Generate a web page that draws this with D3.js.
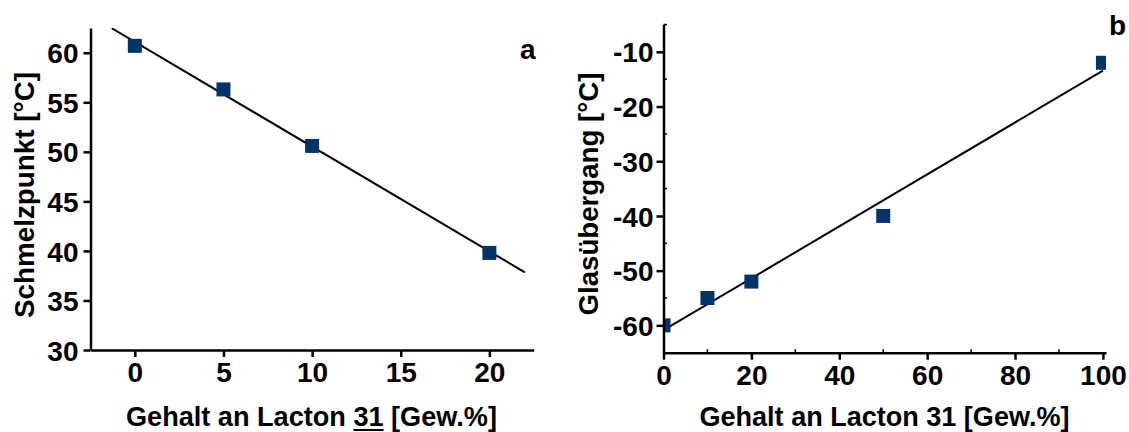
<!DOCTYPE html>
<html><head><meta charset="utf-8">
<script src="https://cdn.jsdelivr.net/npm/d3@7"></script>
<style>
body{margin:0;background:#fff;}
svg{display:block;}
text{font-family:"Liberation Sans",Arial,Helvetica,sans-serif;font-weight:bold;fill:#000;}
</style></head>
<body>
<svg id="c" width="1129" height="432"></svg>
<script>
// Panel a data
const aContent = [0, 5, 10, 20];
const aMelt = [60.7, 56.3, 50.6, 39.8];
const aXTicks = [0, 5, 10, 15, 20];
const aYTicks = [30, 35, 40, 45, 50, 55, 60];
const aFitRange = [-1.3, 22];
// Panel b data
const bContent = [0, 10, 20, 50, 100];
const bGlass = [-60, -55, -52, -40, -12];
const bXTicks = [0, 20, 40, 60, 80, 100];
const bXMinor = [10, 30, 50, 70, 90];
const bYTicks = [-60, -50, -40, -30, -20, -10];
const bYMinor = [-65, -55, -45, -35, -25, -15, -5];
const bFitRange = [0, 100];

const svg = d3.select("#c");
const markerColor = "#003366";
const fmt = d => String(d); // plain hyphen-minus as in the reference

function fit(xs, ys){
  const n = xs.length, mx = d3.mean(xs), my = d3.mean(ys);
  let sxy = 0, sxx = 0;
  for(let i=0;i<n;i++){ sxy += (xs[i]-mx)*(ys[i]-my); sxx += (xs[i]-mx)**2; }
  const m = sxy/sxx; return {m, b: my - m*mx};
}

function panel(o){
  const g = svg.append("g");
  const x = d3.scaleLinear().domain(o.xd).range(o.xr);
  const y = d3.scaleLinear().domain(o.yd).range(o.yr);
  const id = "clip"+o.name;
  svg.append("clipPath").attr("id", id).append("rect")
    .attr("x", o.xr[0]).attr("y", o.yr[1]).attr("width", o.xr[1]-o.xr[0]).attr("height", o.yr[0]-o.yr[1]);
  // fit line
  const f = fit(o.xs, o.ys);
  g.append("line").attr("clip-path", `url(#${id})`)
    .attr("x1", x(o.fr[0])).attr("y1", y(f.b + f.m*o.fr[0]))
    .attr("x2", x(o.fr[1])).attr("y2", y(f.b + f.m*o.fr[1]))
    .attr("stroke", "#000").attr("stroke-width", 2);
  // markers
  const s = 14;
  g.append("g").attr("clip-path", `url(#${id})`).selectAll("rect").data(o.xs.map((d,i)=>[d,o.ys[i]])).join("rect")
    .attr("x", d=>x(d[0])-s/2).attr("y", d=>y(d[1])-s/2).attr("width", s).attr("height", s)
    .attr("fill", markerColor);
  // axes
  const xa = d3.axisBottom(x).tickValues(o.xt).tickSize(7).tickSizeOuter(0).tickFormat(fmt);
  const ya = d3.axisLeft(y).tickValues(o.yt).tickSize(7).tickSizeOuter(0).tickFormat(fmt);
  const gx = g.append("g").attr("transform", `translate(0,${o.yr[0]})`).call(xa);
  const gy = g.append("g").attr("transform", `translate(${o.xr[0]},0)`).call(ya);
  [gx, gy].forEach(ax=>{
    ax.select(".domain").attr("stroke", "#000").attr("stroke-width", 2.5);
    ax.selectAll(".tick line").attr("stroke", "#000").attr("stroke-width", 2.5);
    ax.selectAll(".tick text").style("font-size", "28px").style("font-family", "'Liberation Sans',Arial,sans-serif").style("font-weight", "bold").attr("fill", "#000");
  });
  gx.selectAll(".tick text").attr("y", 12).attr("dy", "0.71em");
  gy.selectAll(".tick text").attr("x", o.ylabPad).attr("dy", "0.36em");
  if(o.xm){
    g.append("g").selectAll("line").data(o.xm).join("line")
      .attr("x1", d=>x(d)).attr("x2", d=>x(d)).attr("y1", o.yr[0]).attr("y2", o.yr[0]-3.5)
      .attr("stroke", "#000").attr("stroke-width", 1.5);
  }
  if(o.ym){
    g.append("g").selectAll("line").data(o.ym).join("line")
      .attr("y1", d=>y(d)).attr("y2", d=>y(d)).attr("x1", o.xr[0]).attr("x2", o.xr[0]+3.5)
      .attr("stroke", "#000").attr("stroke-width", 1.5);
  }
  // titles
  const xt = g.append("text").attr("x", o.xtx).attr("y", 426)
    .attr("text-anchor", "middle").style("font-size", "28px")
    .attr("textLength", o.xtLen).attr("lengthAdjust", "spacingAndGlyphs")
    .text(o.xTitle);
  if(o.underline){
    // underline the compound number, like the reference
    const node = xt.node();
    const i0 = o.xTitle.indexOf(o.underline), i1 = i0 + o.underline.length - 1;
    const a = node.getExtentOfChar(i0), b = node.getExtentOfChar(i1);
    g.append("line").attr("x1", a.x).attr("x2", b.x + b.width).attr("y1", 430).attr("y2", 430)
      .attr("stroke", "#000").attr("stroke-width", 2);
  }
  g.append("text").attr("transform", `translate(${o.ylx},${o.yly}) rotate(-90)`)
    .attr("text-anchor", "middle").style("font-size", "27px")
    .attr("textLength", o.ytLen).attr("lengthAdjust", "spacingAndGlyphs").text(o.yTitle);
  g.append("text").attr("x", o.lx).attr("y", o.ly).style("font-size", "28px").text(o.letter);
}

panel({name:"a", xs:aContent, ys:aMelt, xd:[-2.5,22.5], xr:[90.5,533.7], yd:[30,62.5], yr:[350,28],
  xt:aXTicks, yt:aYTicks, fr:aFitRange, ylabPad:-12, xtx:311.5, xtLen:371,
  xTitle:"Gehalt an Lacton 31 [Gew.%]", underline:"31",
  yTitle:"Schmelzpunkt [°C]", ytLen:246, ylx:34, yly:195, letter:"a", lx:520, ly:59});

panel({name:"b", xs:bContent, ys:bGlass, xd:[0,100.7], xr:[663.5,1106], yd:[-65,-5], yr:[352.7,24.5],
  xt:bXTicks, yt:bYTicks, xm:bXMinor, ym:bYMinor, fr:bFitRange, ylabPad:-10, xtx:884.5, xtLen:370,
  xTitle:"Gehalt an Lacton 31 [Gew.%]",
  yTitle:"Glasübergang [°C]", ytLen:243, ylx:598, yly:194, letter:"b", lx:1109, ly:35});
</script>
</body></html>
